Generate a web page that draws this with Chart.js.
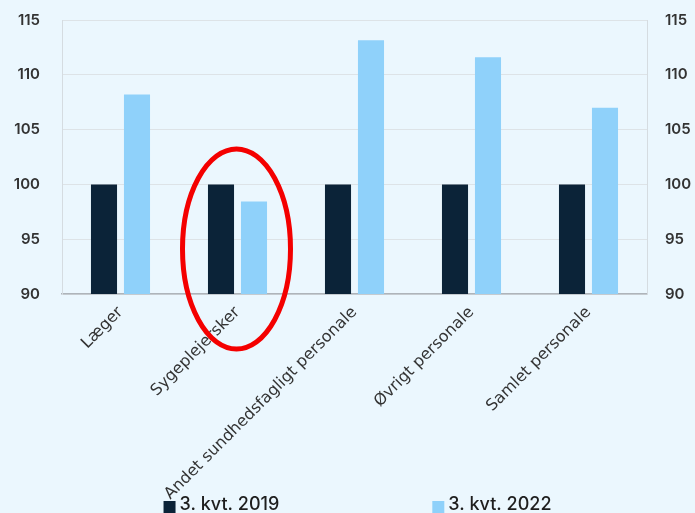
<!DOCTYPE html>
<html>
<head>
<meta charset="utf-8">
<script src="https://cdn.jsdelivr.net/npm/chart.js@4.4.0/dist/chart.umd.min.js"></script>
<style>
  html, body { margin: 0; padding: 0; background: #ebf7fe; overflow: hidden; width: 695px; height: 513px; }
  #wrap { position: relative; width: 695px; height: 513px; overflow: hidden; }
  #chart { position: absolute; left: -30px; top: 0; }
</style>
</head>
<body>
<div id="wrap"><canvas id="chart" width="760" height="530"></canvas></div>
<script>
const categories = ['Læger', 'Sygeplejersker', 'Andet sundhedsfagligt personale', 'Øvrigt personale', 'Samlet personale'];
const q3_2019 = [100, 100, 100, 100, 100];
const q3_2022 = [108.2, 98.45, 113.15, 111.6, 107.0];
const seriesNames = ['3. kvt. 2019', '3. kvt. 2022'];
const yMin = 90, yMax = 115, yStep = 5;
const circledIndex = 1;

const tickFont = { family: 'Inter', size: 15, weight: '600' };
const labelFont = { family: 'DejaVu Sans', size: 16, weight: '400' };
const legendFont = '500 18px Inter';

// red ring around one category
const ringPlugin = {
    id: 'ring',
    afterDatasetsDraw(chart) {
        const { ctx, scales: { x, y } } = chart;
        const cx = x.getPixelForValue(circledIndex) - 1;
        const cy = y.getPixelForValue(yMin) - 45;
        ctx.save();
        ctx.beginPath();
        ctx.ellipse(cx, cy, 54, 100, 0, 0, Math.PI * 2);
        ctx.strokeStyle = '#f40000';
        ctx.lineWidth = 5;
        ctx.stroke();
        ctx.restore();
    }
};

// bottom legend with a wide gap between the two items
const wideLegend = {
    id: 'wideLegend',
    afterDraw(chart) {
        const { ctx, chartArea } = chart;
        const gap = 153, box = 12, textGap = 4;
        ctx.save();
        ctx.font = legendFont;
        ctx.textBaseline = 'middle';
        const items = chart.data.datasets.map(ds => ({
            text: ds.label, color: ds.backgroundColor,
            w: box + textGap + ctx.measureText(ds.label).width
        }));
        const rowW = items.reduce((s, it) => s + it.w, 0) + gap * (items.length - 1);
        let x = (chartArea.left + chartArea.right) / 2 + 3 - rowW / 2;
        const yc = 505;
        items.forEach(it => {
            ctx.fillStyle = it.color;
            ctx.fillRect(x, yc - 4, box, box);
            ctx.fillStyle = '#1e1e1e';
            ctx.fillText(it.text, x + box + textGap, yc);
            x += it.w + gap;
        });
        ctx.restore();
    }
};

// keep the tick padding from pushing the plot area down
function vAxisFit(width) {
    return scale => {
        scale.width = width;
        scale.paddingTop = 0;
        scale.paddingBottom = 0;
    };
}

new Chart(document.getElementById('chart'), {
    type: 'bar',
    data: {
        labels: categories,
        datasets: [
            { label: seriesNames[0], data: q3_2019, backgroundColor: '#0b2338' },
            { label: seriesNames[1], data: q3_2022, backgroundColor: '#8fd1fa' }
        ]
    },
    options: {
        responsive: false,
        animation: false,
        devicePixelRatio: 1,
        categoryPercentage: 0.564,
        barPercentage: 0.79,
        layout: { padding: { top: 20, left: 0, right: 0, bottom: 30 } },
        plugins: {
            tooltip: { enabled: false },
            legend: { display: false }
        },
        scales: {
            x: {
                grid: { display: false, drawTicks: false },
                border: { color: '#aeb4ba', width: 1.5 },
                ticks: { color: '#333', font: labelFont, maxRotation: 45, minRotation: 45, padding: 9 },
                afterFit(scale) { scale.height = 206; }
            },
            y: {
                position: 'left',
                min: yMin, max: yMax,
                grid: { color: '#dde3e7', drawTicks: false },
                border: { color: '#d5dce1' },
                ticks: { stepSize: yStep, color: '#333', font: tickFont, padding: 22 },
                afterFit: vAxisFit(92)
            },
            y2: {
                position: 'right',
                min: yMin, max: yMax,
                grid: { drawOnChartArea: false, drawTicks: false },
                border: { color: '#d5dce1' },
                ticks: { stepSize: yStep, color: '#333', font: tickFont, padding: 18 },
                afterFit: vAxisFit(83)
            }
        }
    },
    plugins: [ringPlugin, wideLegend]
});
</script>
</body>
</html>
